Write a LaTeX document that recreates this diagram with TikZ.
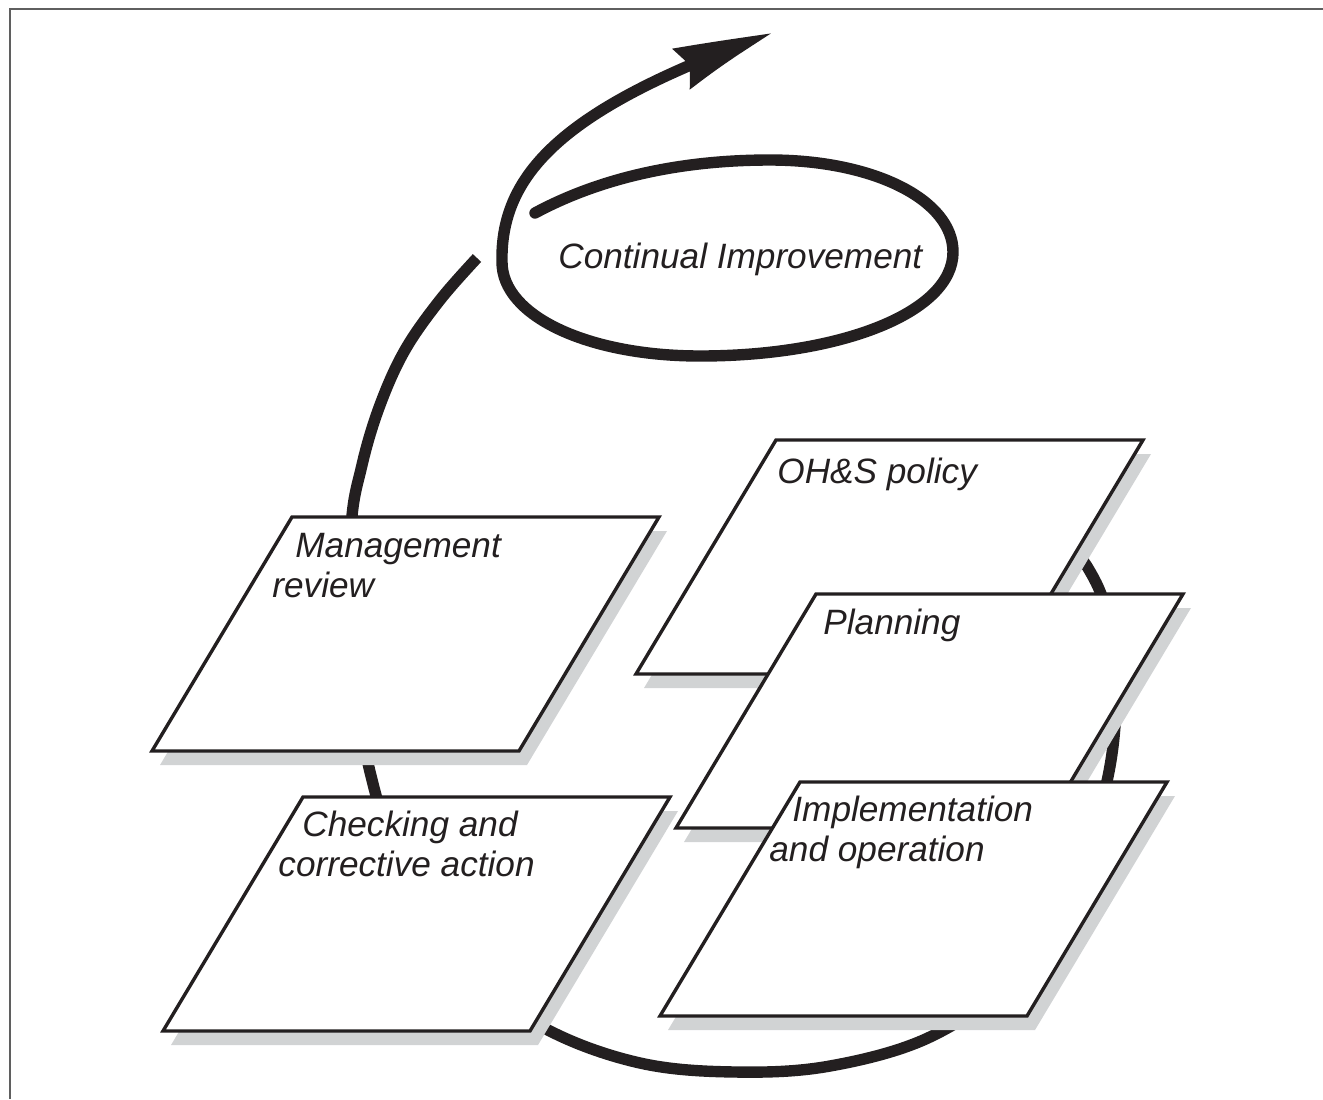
\documentclass[tikz,border=0pt]{standalone}
\usepackage{fontspec}
\setmainfont{Liberation Sans}
\usetikzlibrary{arrows.meta,bending}
\definecolor{shadegray}{RGB}{209,211,212}
\definecolor{ink}{RGB}{35,31,32}
\definecolor{framegray}{RGB}{95,95,95}

\begin{document}
\begin{tikzpicture}[x=0.5pt,y=-0.5pt,
  panel/.style={draw=ink,line width=1.7pt,fill=white},
  panelshade/.style={fill=shadegray},
  cycleline/.style={draw=ink,line width=5.7pt},
  boxtext/.style={anchor=base west,inner sep=0pt,align=left,text=ink,
    font=\itshape\fontsize{17.6}{20}\selectfont}]
\useasboundingbox (0,0) rectangle (1323,1099);
\draw[framegray,line width=1pt] (1323,9) -- (10,9) -- (10,1099);

% big cycle, behind the boxes
\draw[cycleline] plot[smooth,tension=0.6] coordinates {(477,258) (440,300)
  (405,350) (380,405) (362,465) (351,530) (352,660) (372,780) (410,890)
  (470,975) (548,1030) (640,1063) (735,1072) (830,1066) (930,1037)
  (1010,980) (1070,890) (1105,790) (1116,700) (1107,615) (1088,568)
  (1060,535)};

% continual improvement spiral
\draw[cycleline,line cap=round,-{Stealth[length=52pt,width=21pt,inset=5pt,bend]}]
  (535,213) .. controls (600,178) and (680,160) .. (770,160)
  .. controls (874,160) and (953,200) .. (953,252)
  .. controls (953,312) and (842,356) .. (700,356)
  .. controls (588,356) and (502,316) .. (502,262)
  .. controls (500,170) and (570,105) .. (773,33);
\node[boxtext] (ci) at (558,268) {Continual Improvement};

% management review
\fill[panelshade] (300,531) -- ++(367,0) -- ++(-140,234) -- ++(-367,0) -- cycle;
\draw[panel] (292,517) -- ++(367,0) -- ++(-140,234) -- ++(-367,0) -- cycle;
\node[boxtext] (mgmt) at (272,597) {\hspace*{11.5pt}Management\\review};

% checking
\fill[panelshade] (311,811) -- ++(367,0) -- ++(-140,234) -- ++(-367,0) -- cycle;
\draw[panel] (303,797) -- ++(367,0) -- ++(-140,234) -- ++(-367,0) -- cycle;
\node[boxtext] (check) at (278,876) {\hspace*{12pt}Checking and\\corrective action};

% policy
\fill[panelshade] (784,454) -- ++(367,0) -- ++(-140,234) -- ++(-367,0) -- cycle;
\draw[panel] (776,440) -- ++(367,0) -- ++(-140,234) -- ++(-367,0) -- cycle;
\node[boxtext] (policy) at (777,483) {OH\&S policy};

% planning
\fill[panelshade] (824,608) -- ++(367,0) -- ++(-140,234) -- ++(-367,0) -- cycle;
\draw[panel] (816,594) -- ++(367,0) -- ++(-140,234) -- ++(-367,0) -- cycle;
\node[boxtext] (plan) at (823,634) {Planning};

% implementation
\fill[panelshade] (808,796) -- ++(367,0) -- ++(-140,234) -- ++(-367,0) -- cycle;
\draw[panel] (800,782) -- ++(367,0) -- ++(-140,234) -- ++(-367,0) -- cycle;
\node[boxtext] (impl) at (769,861) {\hspace*{11.5pt}Implementation\\and operation};
\end{tikzpicture}
\end{document}
